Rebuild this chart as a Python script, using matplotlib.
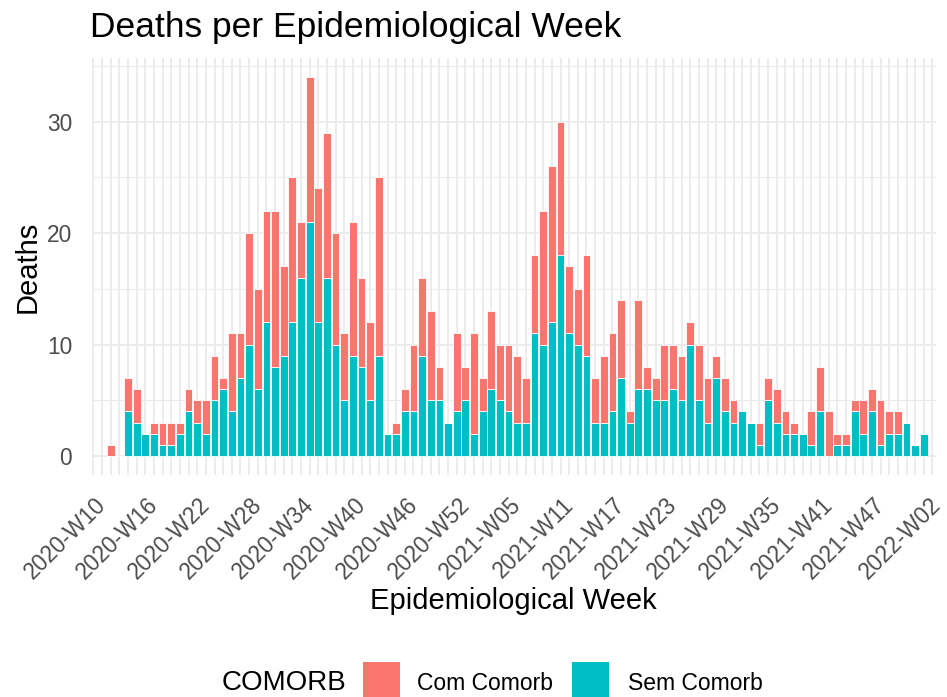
import matplotlib.pyplot as plt
from matplotlib.patches import Rectangle

plt.rcParams['font.family'] = ['Liberation Sans', 'DejaVu Sans']

# weekly deaths, one entry per epidemiological week starting at 2020-W10
sem_comorb = [0, 0, 4, 3, 2, 2, 1, 1, 2, 4, 3, 2, 5, 6, 4, 7, 10, 6, 12, 8,
              9, 12, 16, 21, 12, 16, 10, 5, 9, 8, 5, 9, 2, 2, 4, 4, 9, 5, 5, 3,
              4, 5, 2, 4, 6, 5, 4, 3, 3, 11, 10, 12, 18, 11, 10, 9, 3, 3, 4, 7,
              3, 6, 6, 5, 5, 6, 5, 10, 5, 3, 7, 4, 3, 4, 3, 1, 5, 3, 2, 2,
              2, 1, 4, 0, 1, 1, 4, 2, 4, 1, 2, 2, 3, 1, 2]
com_comorb = [1, 0, 3, 3, 0, 1, 2, 2, 1, 2, 2, 3, 4, 1, 7, 4, 10, 9, 10, 14,
              8, 13, 5, 13, 12, 13, 10, 6, 12, 8, 7, 16, 0, 1, 2, 6, 7, 8, 3, 0,
              7, 3, 9, 3, 7, 5, 6, 6, 4, 7, 12, 14, 12, 6, 5, 9, 4, 6, 7, 7,
              1, 8, 2, 2, 5, 4, 4, 2, 5, 4, 2, 3, 2, 0, 0, 2, 2, 3, 2, 1,
              0, 3, 4, 4, 1, 1, 1, 3, 2, 4, 2, 2, 0, 0, 0]

tick_pos = [0, 6, 12, 18, 24, 30, 36, 42, 48, 54, 60, 66, 72, 78, 84, 90]
tick_labels = ['2020-W10', '2020-W16', '2020-W22', '2020-W28', '2020-W34',
               '2020-W40', '2020-W46', '2020-W52', '2021-W05', '2021-W11',
               '2021-W17', '2021-W23', '2021-W29', '2021-W35', '2021-W41',
               '2021-W47']
last_tick_pos = 96.5
last_tick_label = '2022-W02'

red = '#F8766D'
teal = '#00BFC4'
grid_col = '#EBEBEB'
tick_col = '#4D4D4D'
xlab_pad = 13

fig = plt.figure(figsize=(9.47, 6.97), dpi=100)
ax = fig.add_axes([0.0968, 0.3185, 0.8915, 0.5983])

x = list(range(len(sem_comorb)))
ax.bar(x, sem_comorb, width=0.9, color=teal, edgecolor='white', linewidth=0.6, zorder=3)
ax.bar(x, com_comorb, bottom=sem_comorb, width=0.9, color=red, edgecolor='white',
       linewidth=0.6, zorder=3)

ax.set_xlim(-2.2, 95.4)
ax.set_ylim(-1.7, 35.7)

ax.set_xticks(tick_pos)
ax.set_xticklabels(tick_labels, rotation=45, ha='right', va='top')
ax.set_xticks(range(-2, 96), minor=True)
ax.set_yticks([0, 10, 20, 30])
ax.set_yticks([5, 15, 25, 35], minor=True)

ax.tick_params(axis='both', which='both', length=0)
ax.tick_params(axis='x', which='major', pad=xlab_pad, labelsize=16.4, labelcolor=tick_col)
ax.tick_params(axis='y', which='major', pad=14, labelsize=16.4, labelcolor=tick_col)

ax.grid(True, axis='x', which='both', color=grid_col, linewidth=1.3, zorder=0)
ax.grid(True, axis='y', which='major', color=grid_col, linewidth=1.3, zorder=0)
ax.grid(True, axis='y', which='minor', color=grid_col, linewidth=0.8, zorder=0)
ax.set_axisbelow(True)
for s in ax.spines.values():
    s.set_visible(False)

# last break sits past the panel edge, draw it by hand
ax.annotate(last_tick_label, xy=(last_tick_pos, 0), xycoords=('data', 'axes fraction'),
            xytext=(0, -xlab_pad), textcoords='offset points', rotation=45, ha='right',
            va='top', fontsize=16.4, color=tick_col, annotation_clip=False)

fig.text(90 / 947, 1 - 37 / 697, 'Deaths per Epidemiological Week', fontsize=25.5,
         ha='left', va='baseline')
fig.text(513.8 / 947, 1 - 601 / 697, 'Epidemiological Week', fontsize=21,
         ha='center', va='center')
fig.text(28 / 947, 1 - 266.5 / 697, 'Deaths', fontsize=21, rotation=90,
         ha='center', va='center')

# legend at the bottom, cut by the image edge like the original
fig.text(222 / 947, 1 - 683 / 697, 'COMORB', fontsize=20, ha='left', va='center')
fig.add_artist(Rectangle((363 / 947, -10 / 697), 37 / 947, 45 / 697,
                         transform=fig.transFigure, facecolor=red, edgecolor='none'))
fig.text(417 / 947, 1 - 683 / 697, 'Com Comorb', fontsize=16.5, ha='left', va='center')
fig.add_artist(Rectangle((572 / 947, -10 / 697), 37 / 947, 45 / 697,
                         transform=fig.transFigure, facecolor=teal, edgecolor='none'))
fig.text(628 / 947, 1 - 683 / 697, 'Sem Comorb', fontsize=16.5, ha='left', va='center')

fig.savefig('out.png', dpi=100)
